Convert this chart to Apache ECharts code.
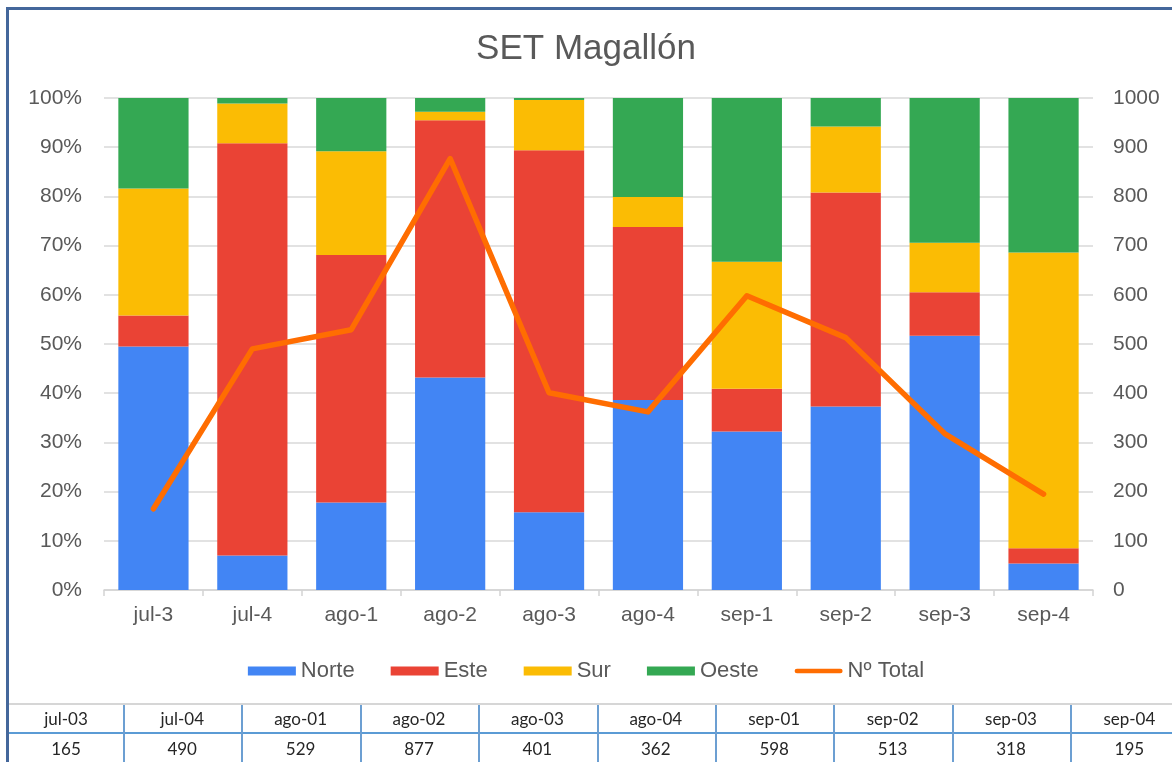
<!DOCTYPE html>
<html>
<head>
<meta charset="utf-8">
<script src="https://cdn.jsdelivr.net/npm/echarts@6/dist/echarts.min.js"></script>
<style>
  html, body { margin: 0; padding: 0; background: #fff; }
  #wrap { position: relative; width: 1172px; height: 762px; overflow: hidden; background: #fff; }
  #chart { position: absolute; left: 0; top: 0; width: 1172px; height: 762px; }
  #frameTop { position: absolute; left: 6px; top: 7px; width: 1166px; height: 0; border-top: 3px solid #44679b; }
  #frameLeft { position: absolute; left: 6px; top: 7px; width: 0; height: 755px; border-left: 3px solid #44679b; }
  #tbl { position: absolute; left: 9px; top: 703px; font-family: Lato, "Open Sans", sans-serif; color: #262626; }
  #tbl .row { position: absolute; left: 0; height: 28px; line-height: 28px; white-space: nowrap; }
  #tbl .cell { position: absolute; top: 0; height: 100%; text-align: center; font-size: 17px; }
</style>
</head>
<body>
<div id="wrap">
  <div id="chart"></div>
  <div id="tbl"></div>
  <div id="frameTop"></div>
  <div id="frameLeft"></div>
</div>
<script>
// ---- data ----
var categories = ['jul-3', 'jul-4', 'ago-1', 'ago-2', 'ago-3', 'ago-4', 'sep-1', 'sep-2', 'sep-3', 'sep-4'];
var norte = [49.5, 7.0, 17.8, 43.2, 15.8, 38.6, 32.2, 37.3, 51.7, 5.4];
var este  = [6.3, 83.8, 50.3, 52.3, 73.6, 35.2, 8.7, 43.5, 8.8, 3.1];
var sur   = [25.8, 8.1, 21.1, 1.7, 10.2, 6.1, 25.8, 13.4, 10.1, 60.1];
var oeste = [18.4, 1.1, 10.8, 2.8, 0.4, 20.1, 33.3, 5.8, 29.4, 31.4];
var total = [165, 490, 529, 877, 401, 362, 598, 513, 318, 195];
var tableLabels = ['jul-03', 'jul-04', 'ago-01', 'ago-02', 'ago-03', 'ago-04', 'sep-01', 'sep-02', 'sep-03', 'sep-04'];
var tableValues = total;

// ---- table under the chart ----
(function buildTable() {
  var tbl = document.getElementById('tbl');
  var colW = 118.4, firstW = 114;
  var html = '';
  html += '<div style="position:absolute;left:0;top:0;width:1180px;border-top:2px solid #d6d6d6;"></div>';
  html += '<div style="position:absolute;left:0;top:29px;width:1180px;border-top:2px solid #5b9bd5;"></div>';
  var rows = [tableLabels, tableValues];
  rows.forEach(function (r, ri) {
    var s = '<div class="row" style="top:' + (2 + ri * 30) + 'px">';
    for (var i = 0; i < r.length; i++) {
      var x = i === 0 ? 0 : firstW + (i - 1) * colW;
      var w = i === 0 ? firstW : colW;
      s += '<div class="cell" style="left:' + x + 'px;width:' + w + 'px">' + r[i] + '</div>';
    }
    s += '</div>';
    html += s;
  });
  for (var i = 1; i < tableLabels.length; i++) {
    var x = firstW + (i - 1) * colW;
    html += '<div style="position:absolute;left:' + x + 'px;top:2px;height:60px;border-left:2px solid #6c9fd2;"></div>';
  }
  tbl.innerHTML = html;
})();

// ---- chart ----
var chart = echarts.init(document.getElementById('chart'), null, { renderer: 'canvas' });
var fontFam = '"Liberation Sans", Arial, sans-serif';
var labelColor = '#595959';
function barSeries(name, data, color) {
  return {
    name: name, type: 'bar', stack: 'dir', data: data,
    barCategoryGap: '29%', yAxisIndex: 0,
    itemStyle: { color: color },
    emphasis: { disabled: true }
  };
}
chart.setOption({
  animation: false,
  backgroundColor: 'transparent',
  title: {
    text: 'SET Magallón', left: 'center', top: 27,
    textStyle: { fontFamily: fontFam, fontSize: 35, fontWeight: 'normal', color: '#595959' }
  },
  legend: {
    top: 655, left: 'center',
    itemWidth: 48, itemHeight: 9, itemGap: 36,
    textStyle: { fontFamily: fontFam, fontSize: 22, color: labelColor },
    data: [
      { name: 'Norte', icon: 'rect' },
      { name: 'Este', icon: 'rect' },
      { name: 'Sur', icon: 'rect' },
      { name: 'Oeste', icon: 'rect' },
      { name: 'Nº Total', icon: 'path://M2,0 L58,0 A3,3 0 0 1 58,6 L2,6 A3,3 0 0 1 2,0 Z' }
    ]
  },
  grid: { left: 104, right: 79, top: 98, bottom: 172, containLabel: false },
  xAxis: {
    type: 'category', data: categories, boundaryGap: true,
    axisLine: { lineStyle: { color: '#d4d4d4', width: 1.5 } },
    axisTick: { show: true, length: 6, lineStyle: { color: '#d4d4d4', width: 1.5 } },
    axisLabel: { fontFamily: fontFam, fontSize: 21, color: labelColor, margin: 15 }
  },
  yAxis: [
    {
      type: 'value', min: 0, max: 100, interval: 10,
      axisLabel: { formatter: '{value}%', fontFamily: fontFam, fontSize: 21, color: labelColor, margin: 22 },
      axisLine: { show: false }, axisTick: { show: false },
      splitLine: { lineStyle: { color: '#d9d9d9', width: 1.5 } }
    },
    {
      type: 'value', min: 0, max: 1000, interval: 100, position: 'right',
      axisLabel: { formatter: function (v) { return String(v); }, fontFamily: fontFam, fontSize: 21, color: labelColor, margin: 20 },
      axisLine: { show: false }, axisTick: { show: false },
      splitLine: { show: false }
    }
  ],
  series: [
    barSeries('Norte', norte, '#4285f4'),
    barSeries('Este', este, '#ea4335'),
    barSeries('Sur', sur, '#fbbc04'),
    barSeries('Oeste', oeste, '#34a853'),
    {
      name: 'Nº Total', type: 'line', yAxisIndex: 1, data: total,
      showSymbol: false, symbol: 'none',
      itemStyle: { color: '#ff6d01' },
      lineStyle: { color: '#ff6d01', width: 5.5, cap: 'round', join: 'round' },
      emphasis: { disabled: true }, z: 5
    }
  ]
});
</script>
</body>
</html>
